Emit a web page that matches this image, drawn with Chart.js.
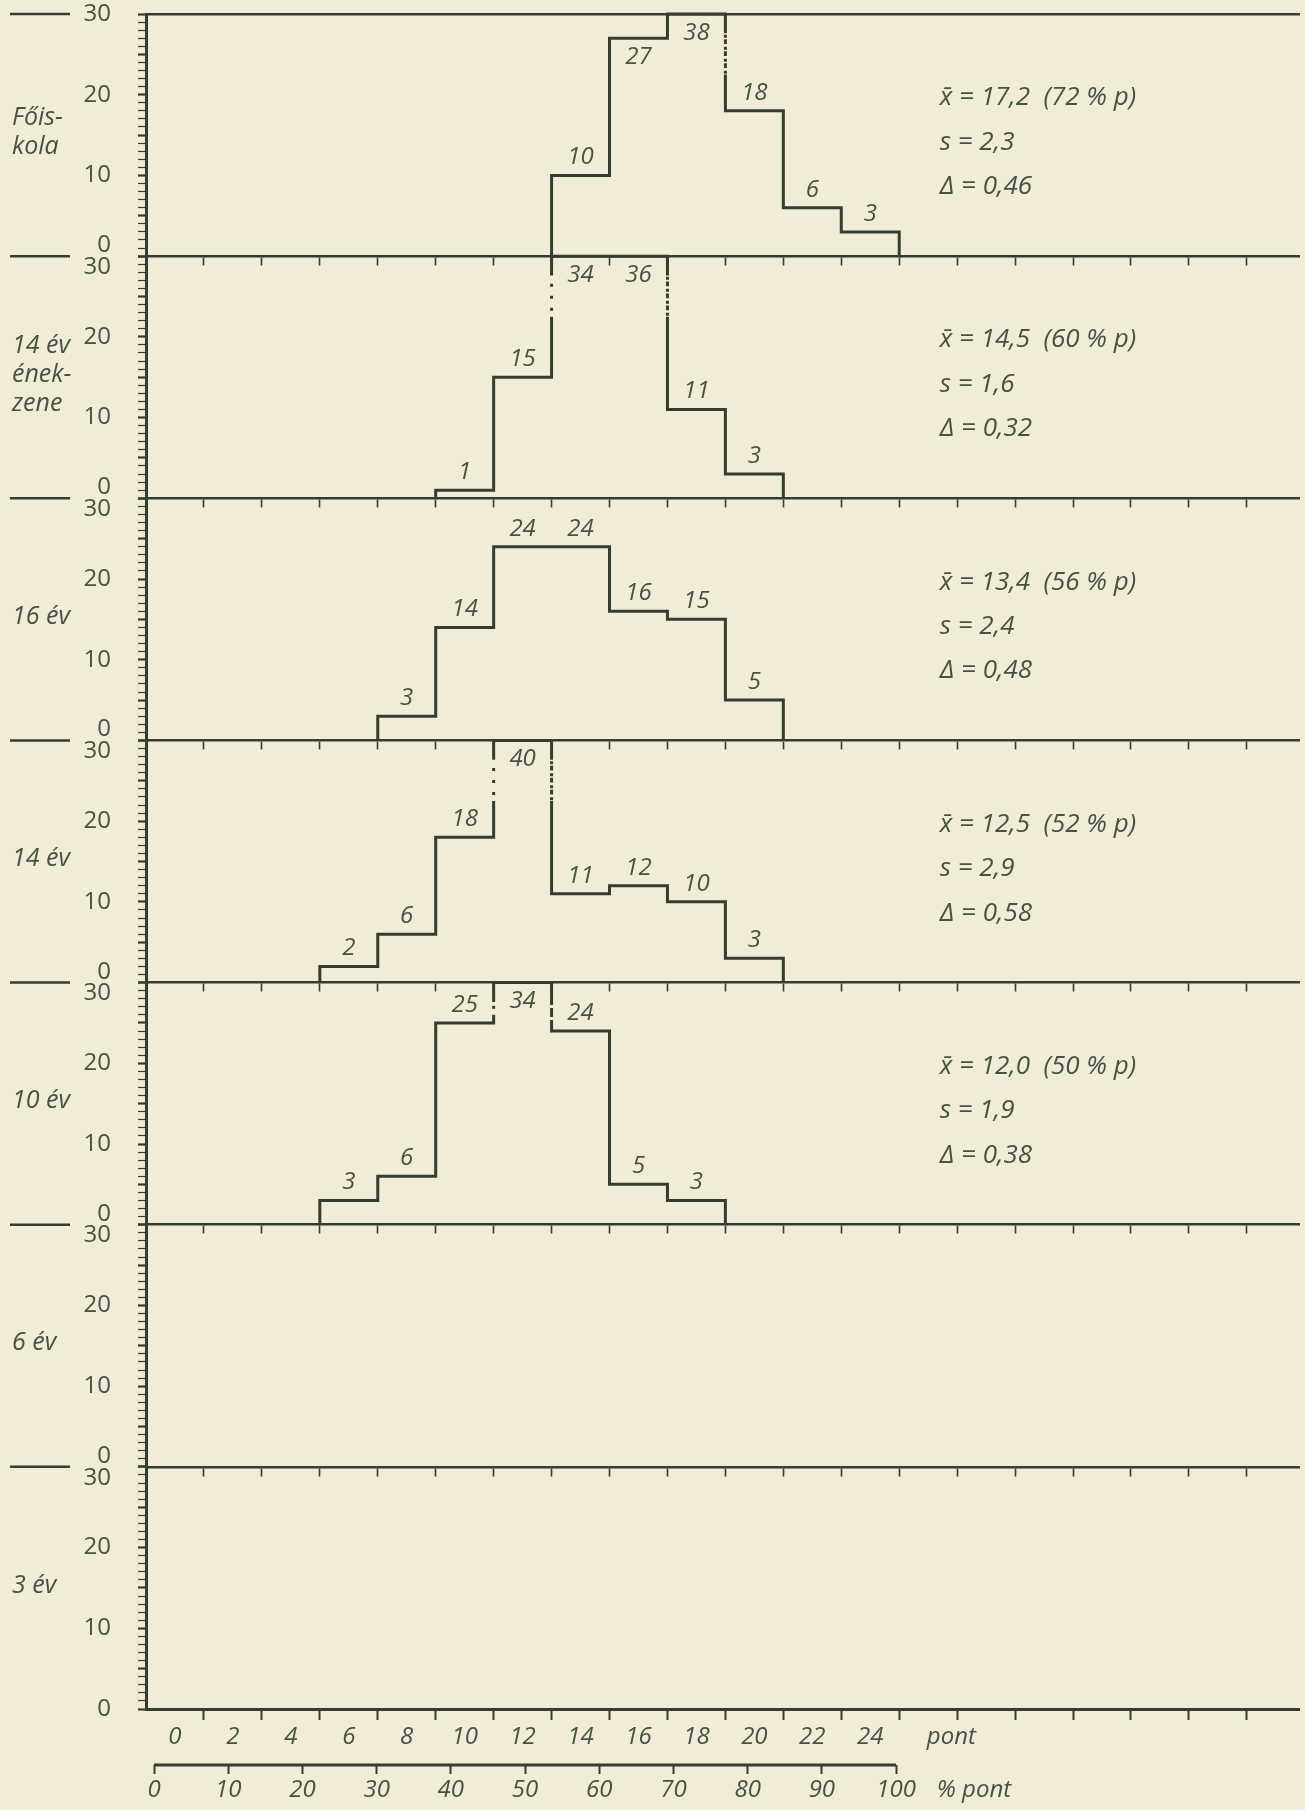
<!DOCTYPE html>
<html>
<head>
<meta charset="utf-8">
<script src="https://cdn.jsdelivr.net/npm/chart.js@4.4.0/dist/chart.umd.min.js"></script>
<style>
	html, body { margin: 0; padding: 0; background: #f1ecd8; }
	#doboz { width: 1305px; height: 1810px; position: relative; }
</style>
</head>
<body>
<div id="doboz"><canvas id="grafikon"></canvas></div>
<script>
// sávok közepe (pont), 2 pontos sávok
var pontok = [6, 8, 10, 12, 14, 16, 18, 20, 22, 24];

// gyakoriságok (%) sávonként, null = nincs oszlop
var foiskola   = [null, null, null, null, 10, 27, 38, 18, 6, 3];
var enekzene14 = [null, null, 1, 15, 34, 36, 11, 3, null, null];
var ev16       = [null, 3, 14, 24, 24, 16, 15, 5, null, null];
var ev14       = [2, 6, 18, 40, 11, 12, 10, 3, null, null];
var ev10       = [3, 6, 25, 34, 24, 5, 3, null, null, null];
var ev6        = [];
var ev3        = [];

var csoportok = [['Főis-', 'kola'], ['14 év', 'ének-', 'zene'], ['16 év'], ['14 év'], ['10 év'], ['6 év'], ['3 év']];

var atlag    = ['17,2', '14,5', '13,4', '12,5', '12,0'];
var szazalek = ['72', '60', '56', '52', '50'];
var szoras   = ['2,3', '1,6', '2,4', '2,9', '1,9'];
var delta    = ['0,46', '0,32', '0,48', '0,58', '0,38'];

var pontFeliratok = [0, 2, 4, 6, 8, 10, 12, 14, 16, 18, 20, 22, 24];
var szazalekFeliratok = [0, 10, 20, 30, 40, 50, 60, 70, 80, 90, 100];
var yFeliratok = [0, 10, 20, 30];

var sorozatok = [foiskola, enekzene14, ev16, ev14, ev10, ev6, ev3];

var VONAL = '#343d2f';
var SZOVEG = '#475243';
var BETU = '"Open Sans", "DejaVu Sans", sans-serif';
var PLAFON = 30;
var NINCS = 'rgba(0,0,0,0)';

Chart.defaults.font.family = BETU;
Chart.defaults.color = SZOVEG;

// lépcsős vonal pontjai a sávhatárokon
function lepcso(ertekek) {
	var pts = [];
	var elso = -1, utolso = -1;
	ertekek.forEach(function(v, i){
		if (v != null) { if (elso < 0) elso = i; utolso = i; }
	});
	if (elso < 0) return pts;

	function fuggoleges(x, a, b) {
		var ya = Math.min(a, PLAFON), yb = Math.min(b, PLAFON);
		var lo = Math.min(ya, yb);
		if (!(Math.max(a, b) > PLAFON && lo < 26)) {
			pts.push({x: x, y: ya});
			pts.push({x: x, y: yb});
			return;
		}
		var also = Math.max(22.5, lo + 1);
		if (ya < yb) {
			pts.push({x: x, y: ya});
			pts.push({x: x, y: also, pont: true});
			pts.push({x: x, y: 27.6});
			pts.push({x: x, y: yb});
		} else {
			pts.push({x: x, y: ya});
			pts.push({x: x, y: 27.6, pont: true});
			pts.push({x: x, y: also});
			pts.push({x: x, y: yb});
		}
	}

	var elozo = 0;
	for (var i = elso; i <= utolso; i++) {
		fuggoleges(pontok[i] - 1, elozo, ertekek[i]);
		elozo = ertekek[i];
	}
	fuggoleges(pontok[utolso] + 1, elozo, 0);
	return pts;
}

var adatsorok = sorozatok.map(function(ert, i){
	return {
		data: lepcso(ert),
		xAxisID: 'x',
		yAxisID: 'y' + i,
		borderColor: VONAL,
		borderWidth: 3,
		pointRadius: 0,
		tension: 0,
		fill: false,
		clip: false,
		segment: {
			borderDash: function(ctx){
				var d = ctx.chart.data.datasets[ctx.datasetIndex].data[ctx.p0DataIndex];
				return d && d.pont ? [3, 9] : undefined;
			},
			borderDashOffset: function(ctx){
				var d = ctx.chart.data.datasets[ctx.datasetIndex].data[ctx.p0DataIndex];
				return d && d.pont ? -6 : undefined;
			}
		}
	};
});

// a tengelyek ne kérjenek plusz helyet a feliratoknak
function nullaPadding(s) {
	s.paddingTop = 0; s.paddingBottom = 0; s.paddingLeft = 0; s.paddingRight = 0;
}

var skalak = {};

skalak.x = {
	type: 'linear', axis: 'x', position: 'bottom', min: -1, max: 38.8,
	afterBuildTicks: function(s){
		var t = [];
		for (var v = -1; v <= 37; v++) {
			t.push({value: v});
			if (v === 26) t.push({value: 26.8});
		}
		s.ticks = t;
	},
	afterFit: function(s){ s.height = 56; nullaPadding(s); },
	ticks: {
		autoSkip: false, maxRotation: 0, padding: 3,
		font: {size: 24, style: 'italic'},
		callback: function(v){
			if (v === 26.8) return 'pont';
			return pontFeliratok.indexOf(v) >= 0 ? String(v) : '';
		}
	},
	grid: {
		drawOnChartArea: false, tickLength: 11, tickWidth: 2,
		tickColor: function(ctx){
			var v = ctx.tick ? ctx.tick.value : 0;
			return (v >= 1 && Math.abs(v % 2) === 1) ? VONAL : NINCS;
		}
	},
	border: {color: VONAL, width: 3}
};

skalak.p = {
	type: 'linear', axis: 'x', position: 'bottom', min: -1.08, max: 154.3,
	afterBuildTicks: function(s){
		s.ticks = szazalekFeliratok.map(function(v){ return {value: v}; }).concat([{value: 110.5}]);
	},
	afterFit: function(s){ s.height = 45; nullaPadding(s); },
	ticks: {
		autoSkip: false, maxRotation: 0, padding: 2,
		font: {size: 24, style: 'italic'},
		callback: function(v){ return v === 110.5 ? '% pont' : String(v); }
	},
	grid: {
		drawOnChartArea: false, tickLength: 9, tickWidth: 2,
		tickColor: function(ctx){ return ctx.tick && ctx.tick.value <= 100 ? VONAL : NINCS; }
	},
	border: {display: false}
};

sorozatok.forEach(function(ert, i){
	skalak['y' + i] = {
		type: 'linear', axis: 'y', position: 'left',
		stack: 'panelek', stackWeight: 1, weight: 7 - i,
		min: 0, max: 30,
		afterBuildTicks: function(s){
			var t = [];
			for (var v = 0; v <= 30; v++) t.push({value: v});
			s.ticks = t;
		},
		afterFit: function(s){ s.width = 146; nullaPadding(s); },
		ticks: {
			autoSkip: false, padding: 27,
			font: {size: 24, lineHeight: 0.9},
			callback: function(v){
				if (yFeliratok.indexOf(v) < 0) return '';
				if (v === 0 && i < 6) return ['0', ''];
				if (v === 30 && i > 0) return ['', '30'];
				return String(v);
			}
		},
		grid: {
			drawOnChartArea: false, tickLength: 8, tickColor: VONAL,
			tickWidth: function(ctx){ return ctx.tick && ctx.tick.value % 5 === 0 ? 2.2 : 1.2; }
		},
		border: {color: VONAL, width: 3}
	};
});

// a panelek alsó vonalai, sávhatár-jelekkel
for (var k = 0; k < 6; k++) {
	var poz = {};
	poz['y' + k] = 0;
	skalak['xa' + k] = {
		type: 'linear', axis: 'x', position: poz, min: -1, max: 38.8,
		afterBuildTicks: function(s){
			var t = [];
			for (var v = 1; v <= 37; v += 2) t.push({value: v});
			s.ticks = t;
		},
		afterFit: nullaPadding,
		ticks: {display: false, autoSkip: false},
		grid: {drawOnChartArea: false, tickLength: 8, tickWidth: 1.6, tickColor: VONAL},
		border: {color: VONAL, width: 2.5}
	};
}
skalak.xf = {
	type: 'linear', axis: 'x', position: {y0: 30}, min: -1, max: 38.8,
	afterFit: nullaPadding,
	ticks: {display: false},
	grid: {drawOnChartArea: false, drawTicks: false},
	border: {color: VONAL, width: 2.5}
};

var feliratPlugin = {
	id: 'feliratok',
	afterDraw: function(chart){
		var c = chart.ctx, xs = chart.scales.x;
		c.save();
		c.fillStyle = SZOVEG;
		c.strokeStyle = VONAL;

		sorozatok.forEach(function(ert, i){
			var ys = chart.scales['y' + i];

			// bal oldali vonalkák
			var vonalak = [];
			if (i === 0) vonalak.push(ys.getPixelForValue(30));
			if (i < 6) vonalak.push(ys.getPixelForValue(0));
			c.lineWidth = 2.5;
			vonalak.forEach(function(y){
				c.beginPath(); c.moveTo(10, y); c.lineTo(70, y); c.stroke();
			});

			// csoport neve
			c.font = 'italic 25px ' + BETU;
			c.textAlign = 'left';
			c.textBaseline = 'middle';
			var sorok = csoportok[i];
			var kozep = ys.getPixelForValue(15.3);
			sorok.forEach(function(s, j){
				c.fillText(s, 12, kozep + (j - (sorok.length - 1) / 2) * 29);
			});

			// értékek a lépcsők fölött
			c.font = 'italic 24px ' + BETU;
			c.textAlign = 'center';
			ert.forEach(function(v, j){
				if (v == null) return;
				var px = xs.getPixelForValue(pontok[j]);
				var py = v >= 27 ? ys.getPixelForValue(Math.min(v, PLAFON)) + 19 : ys.getPixelForValue(v) - 18;
				c.fillText(String(v), px, py);
			});

			// statisztika
			if (i < atlag.length) {
				c.font = 'italic 26px ' + BETU;
				c.textAlign = 'left';
				var sx = xs.getPixelForValue(26.4);
				c.fillText('x\u0304 = ' + atlag[i] + '  (' + szazalek[i] + ' % p)', sx, ys.getPixelForValue(19.6));
				c.fillText('s = ' + szoras[i], sx, ys.getPixelForValue(14.1));
				c.fillText('\u0394 = ' + delta[i], sx, ys.getPixelForValue(8.6));
			}
		});

		// százalék tengely vonala 0-100 között
		var ps = chart.scales.p;
		c.lineWidth = 3;
		c.beginPath();
		c.moveTo(ps.getPixelForValue(0), ps.top);
		c.lineTo(ps.getPixelForValue(100), ps.top);
		c.stroke();
		c.restore();
	}
};

var canvas = document.getElementById('grafikon').getContext('2d');
window.hisztogram = new Chart(canvas, {
	type: 'line',
	data: {datasets: adatsorok},
	options: {
		responsive: true,
		maintainAspectRatio: false,
		animation: false,
		events: [],
		layout: {padding: {top: 14, right: 6, left: 0, bottom: 0}},
		plugins: {legend: {display: false}, tooltip: {enabled: false}},
		scales: skalak
	},
	plugins: [feliratPlugin]
});
</script>
</body>
</html>
